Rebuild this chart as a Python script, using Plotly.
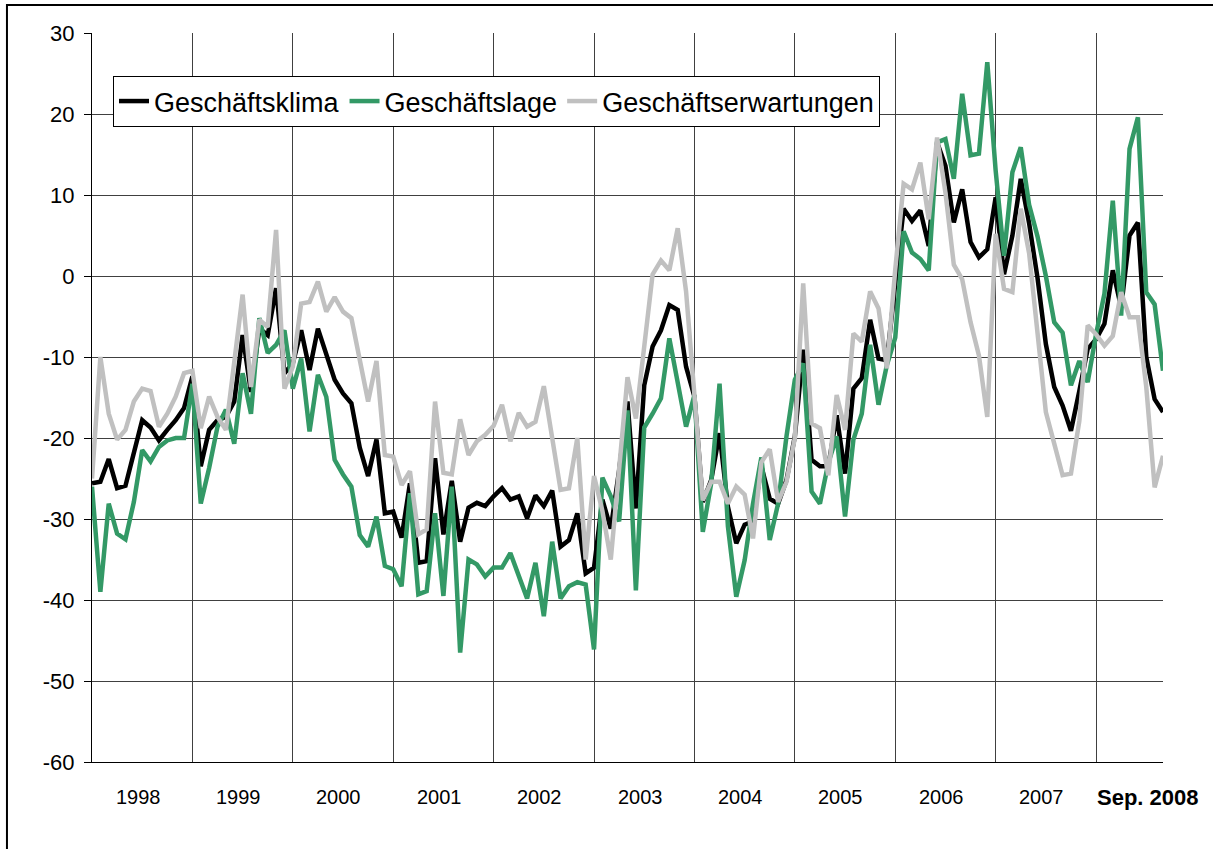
import plotly.graph_objects as go
import pandas as pd

# Monthly observations Jan 1998 .. Sep 2008
months = pd.period_range("1998-01", "2008-09", freq="M").strftime("%Y-%m").tolist()

klima = [
    -25.6, -25.4, -22.6, -26.2, -25.9, -21.9, -17.8, -18.7, -20.3, -19.0, -17.8, -16.3,
    -12.4, -23.5, -19.0, -17.8, -17.4, -15.5, -7.3, -14.3, -6.5, -7.3, -1.5, -12.0,
    -10.8, -6.7, -11.6, -6.5, -9.5, -12.8, -14.5, -15.7, -21.2, -24.7, -20.2, -29.3,
    -29.1, -32.3, -25.6, -35.4, -35.2, -22.5, -31.9, -25.3, -32.8, -28.6, -28.0, -28.4,
    -27.2, -26.2, -27.6, -27.2, -29.9, -27.1, -28.4, -26.5, -33.4, -32.6, -29.3, -36.7,
    -36.0, -27.6, -31.2, -24.0, -15.5, -28.7, -13.5, -8.7, -6.7, -3.6, -4.2, -11.2,
    -14.9, -27.9, -25.2, -19.4, -28.5, -33.0, -30.7, -30.3, -23.5, -27.5, -28.1, -25.2,
    -19.8, -9.1, -22.7, -23.5, -23.5, -17.2, -24.4, -13.9, -12.6, -5.4, -10.2, -10.4,
    -1.0, 8.3, 6.8, 8.1, 3.7, 16.5, 13.6, 6.6, 10.7, 4.2, 2.3, 3.3,
    9.7, 0.2, 5.0, 12.0, 6.5, -0.2, -8.4, -13.7, -16.0, -19.1, -14.2, -9.0,
    -7.8, -5.9, 0.7, -3.9, 5.0, 6.6, -10.0, -15.2, -16.8,
]

lage = [
    -26.0, -39.0, -28.1, -31.8, -32.5, -27.9, -21.5, -22.9, -21.1, -20.3, -20.0, -20.0,
    -13.3, -28.1, -23.7, -18.6, -16.5, -20.7, -12.0, -17.0, -5.2, -9.5, -8.5, -6.7,
    -13.9, -10.2, -19.2, -12.2, -14.9, -22.7, -24.5, -26.0, -32.0, -33.4, -29.7, -35.8,
    -36.2, -38.3, -26.8, -39.3, -38.9, -29.3, -39.5, -26.0, -46.5, -35.0, -35.6, -37.1,
    -36.0, -36.0, -34.2, -37.1, -39.8, -35.4, -42.0, -32.8, -39.8, -38.3, -37.8, -38.1,
    -46.1, -24.9, -27.2, -30.3, -16.6, -38.8, -18.7, -17.0, -15.1, -7.7, -13.3, -18.6,
    -14.7, -31.6, -25.6, -13.3, -30.9, -39.6, -35.1, -28.1, -22.4, -32.6, -28.1, -19.8,
    -12.8, -10.8, -26.6, -28.1, -23.1, -19.8, -29.7, -20.2, -17.0, -8.5, -15.9, -11.0,
    -7.6, 5.5, 2.9, 2.1, 0.7, 16.5, 16.9, 12.0, 22.5, 14.9, 15.1, 26.4,
    13.0, 2.5, 12.8, 15.9, 8.8, 4.9, 0.0, -5.7, -7.0, -13.5, -10.5, -13.1,
    -7.2, -2.2, 9.3, -4.9, 15.7, 19.6, -2.0, -3.5, -11.7,
]

erwartungen = [
    -25.0, -10.0, -17.0, -20.2, -19.0, -15.5, -13.9, -14.2, -18.6, -17.0, -14.9, -12.0,
    -11.7, -18.8, -14.9, -17.4, -19.0, -11.0, -2.3, -13.7, -5.4, -6.3, 5.7, -13.9,
    -11.2, -3.4, -3.2, -0.7, -4.4, -2.6, -4.4, -5.2, -10.4, -15.5, -10.5, -22.1,
    -22.3, -25.8, -24.1, -31.9, -31.3, -15.5, -24.3, -24.5, -17.7, -22.1, -20.4, -19.6,
    -18.5, -15.9, -20.4, -16.9, -18.6, -18.0, -13.6, -20.0, -26.4, -26.2, -20.0, -35.0,
    -24.7, -29.0, -35.0, -23.8, -12.5, -17.6, -8.3, 0.2, 1.9, 0.7, 5.9, -1.9,
    -14.7, -27.7, -25.4, -25.4, -28.1, -26.0, -27.0, -32.4, -23.0, -21.4, -27.9, -25.4,
    -20.0, -0.9, -18.2, -18.8, -24.6, -14.7, -19.0, -7.1, -8.1, -1.9, -4.0, -11.4,
    0.8, 11.4, 10.7, 14.0, 7.0, 17.1, 10.3, 1.4, -0.4, -5.7, -9.8, -17.4,
    5.2, -1.6, -2.0, 8.3, 2.8, -7.1, -16.8, -20.7, -24.6, -24.4, -17.9, -6.1,
    -7.2, -8.6, -7.4, -2.0, -5.1, -5.1, -13.7, -26.1, -22.2,
]

year_labels = ["1998", "1999", "2000", "2001", "2002", "2003", "2004", "2005", "2006", "2007"]
last_label = "Sep. 2008"
y_ticks = [30, 20, 10, 0, -10, -20, -30, -40, -50, -60]
y_ticktext = ["30", "20", "10", "0", "-10", "-20", "-30", "-40", "-50", "-60"]

series_names = ["Geschäftsklima", "Geschäftslage", "Geschäftserwartungen"]
series_colors = ["#000000", "#339966", "#C0C0C0"]

x = list(range(len(months)))
n_last = len(months) - 1

fig = go.Figure()
for name, vals, col in zip(series_names, [klima, lage, erwartungen], series_colors):
    fig.add_trace(go.Scatter(
        x=x, y=vals, name=name, mode="lines",
        line=dict(color=col, width=4.5),
        customdata=months,
        hovertemplate="%{customdata}: %{y}<extra>" + name + "</extra>",
    ))

FONT = "Arial, Liberation Sans, sans-serif"

annotations = []
for k, lab in enumerate(year_labels):
    annotations.append(dict(
        x=6 + 12 * k - 0.5, y=0, xref="x", yref="paper", yshift=-35,
        text=lab, showarrow=False, xanchor="center", yanchor="middle",
        font=dict(family=FONT, size=20, color="#000000"),
    ))
annotations.append(dict(
    x=n_last - 1.8, y=0, xref="x", yref="paper", yshift=-35,
    text="<b>" + last_label + "</b>", showarrow=False, xanchor="center", yanchor="middle",
    font=dict(family=FONT, size=22, color="#000000"),
))

fig.update_layout(
    width=1213, height=849,
    margin=dict(l=92, r=50, t=33, b=87),
    paper_bgcolor="#FFFFFF", plot_bgcolor="#FFFFFF",
    font=dict(family=FONT, color="#000000"),
    showlegend=True,
    legend=dict(
        orientation="h", x=0.0196, y=0.941, xanchor="left", yanchor="top",
        bgcolor="#FFFFFF", bordercolor="#000000", borderwidth=1,
        font=dict(family=FONT, size=27, color="#000000"),
        itemwidth=30, tracegroupgap=0,
    ),
    annotations=annotations,
    shapes=[dict(
        type="rect", xref="paper", yref="paper",
        x0=-0.0794, x1=1.06, y0=-0.14, y1=1.0384,
        line=dict(color="#000000", width=2), fillcolor="rgba(0,0,0,0)", layer="below",
    )],
)

fig.update_xaxes(
    range=[0, n_last], tickmode="array",
    tickvals=list(range(0, n_last, 12)) + [n_last],
    showticklabels=False, ticks="",
    showgrid=True, gridcolor="#404040", gridwidth=1,
    showline=True, linecolor="#000000", linewidth=1,
    zeroline=False,
)
fig.update_yaxes(
    range=[-60, 30], tickmode="array", tickvals=y_ticks, ticktext=y_ticktext,
    ticks="outside", ticklen=7, tickcolor="#000000", tickwidth=1,
    ticklabelstandoff=5,
    tickfont=dict(family=FONT, size=22, color="#000000"),
    showgrid=True, gridcolor="#404040", gridwidth=1,
    showline=True, linecolor="#000000", linewidth=1,
    zeroline=False,
)

fig.write_html(
    "out.html",
    config={"displayModeBar": False},
    post_script="document.body.style.margin='0';document.body.style.overflow='hidden';",
)
